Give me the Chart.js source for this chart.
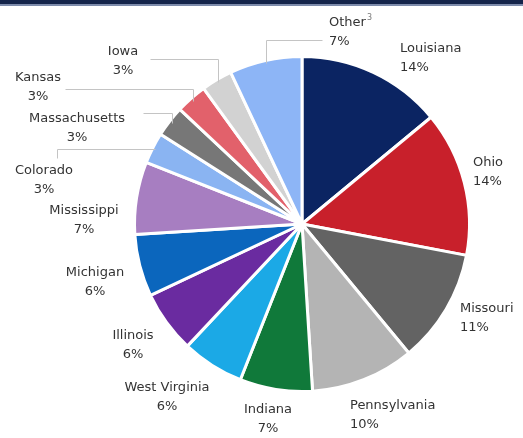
<!DOCTYPE html>
<html>
<head>
<meta charset="utf-8">
<script src="https://cdn.jsdelivr.net/npm/chart.js@4/dist/chart.umd.min.js"></script>
<style>
  html, body { margin: 0; padding: 0; background: #fff; }
  body { width: 523px; height: 438px; position: relative; overflow: hidden; }
  .topbar { position: absolute; left: 0; top: 0; width: 523px; height: 4px; background: #14244a; border-bottom: 2px solid #7d8bab; }
  #wrap { position: absolute; left: 0; top: 0; width: 523px; height: 438px; }
</style>
</head>
<body>
<div class="topbar"></div>
<div id="wrap"><canvas id="pie"></canvas></div>
<script>
// data
const states = ['Louisiana', 'Ohio', 'Missouri', 'Pennsylvania', 'Indiana', 'West Virginia',
  'Illinois', 'Michigan', 'Mississippi', 'Colorado', 'Massachusetts', 'Kansas', 'Iowa', 'Other'];
const shares = [14, 14, 11, 10, 7, 6, 6, 6, 7, 3, 3, 3, 3, 7];
const sliceColors = ['#0b2462', '#c8202b', '#636363', '#b4b4b4', '#10793a', '#1ba9e6',
  '#6a2ba0', '#0b66bd', '#a77ec1', '#8ab4f2', '#777777', '#e2616b', '#d2d2d2', '#8db5f6'];

// label placement (offsets from pie centre), line 2 sits 19px lower
const labelPos = {
  'Louisiana':     { dx: 98,   dy: -175, align: 'left' },
  'Ohio':          { dx: 171,  dy: -61,  align: 'left' },
  'Missouri':      { dx: 158,  dy: 85,   align: 'left' },
  'Pennsylvania':  { dx: 48,   dy: 182,  align: 'left' },
  'Indiana':       { dx: -34,  dy: 186,  align: 'center' },
  'West Virginia': { dx: -135, dy: 164,  align: 'center' },
  'Illinois':      { dx: -169, dy: 112,  align: 'center' },
  'Michigan':      { dx: -207, dy: 49,   align: 'center' },
  'Mississippi':   { dx: -218, dy: -13,  align: 'center' },
  'Colorado':      { dx: -258, dy: -53,  align: 'center' },
  'Massachusetts': { dx: -225, dy: -105, align: 'center' },
  'Kansas':        { dx: -264, dy: -146, align: 'center' },
  'Iowa':          { dx: -179, dy: -172, align: 'center' },
  'Other':         { dx: 27,   dy: -201, align: 'left', sup: '3' }
};

// leader lines for the small slices: 'v' = up then across, 'h' = across then down
const leaders = {
  'Other':         { type: 'v', dy: -184, dx: 20 },
  'Iowa':          { type: 'v', dy: -165, dx: -152 },
  'Kansas':        { type: 'v', dy: -135, dx: -237 },
  'Massachusetts': { type: 'v', dy: -111, dx: -159 },
  'Colorado':      { type: 'h', dx: -245, dy: -66 }
};

const labelPlugin = {
  id: 'sliceLabels',
  afterDatasetsDraw(chart) {
    const ctx = chart.ctx;
    const arcs = chart.getDatasetMeta(0).data;
    const cx = arcs[0].x, cy = arcs[0].y;
    ctx.save();

    // leader lines
    ctx.strokeStyle = '#c4c4c4';
    ctx.lineWidth = 1;
    states.forEach((name, i) => {
      const ld = leaders[name];
      if (!ld) return;
      const a = arcs[i];
      const mid = (a.startAngle + a.endAngle) / 2;
      const r = a.outerRadius - 3;
      const px = Math.round(cx + r * Math.cos(mid)) + 0.5;
      const py = Math.round(cy + r * Math.sin(mid)) + 0.5;
      ctx.beginPath();
      ctx.moveTo(px, py);
      if (ld.type === 'v') {
        const yl = Math.round(cy + ld.dy) + 0.5;
        ctx.lineTo(px, yl);
        ctx.lineTo(Math.round(cx + ld.dx) + 0.5, yl);
      } else {
        const xl = Math.round(cx + ld.dx) + 0.5;
        ctx.lineTo(xl, py);
        ctx.lineTo(xl, Math.round(cy + ld.dy) + 0.5);
      }
      ctx.stroke();
    });

    // text
    ctx.fillStyle = '#333333';
    ctx.font = '13px "DejaVu Sans"';
    ctx.textBaseline = 'middle';
    states.forEach((name, i) => {
      const p = labelPos[name];
      const x = cx + p.dx, y = cy + p.dy;
      ctx.textAlign = p.align;
      ctx.fillText(name, x, y);
      if (p.sup) {
        const w = ctx.measureText(name).width;
        ctx.save();
        ctx.font = '8px "DejaVu Sans"';
        ctx.fillStyle = '#777';
        ctx.textAlign = 'left';
        ctx.fillText(p.sup, x + w + 1, y - 5);
        ctx.restore();
      }
      ctx.fillText(shares[i] + '%', x, y + 19);
    });
    ctx.restore();
  }
};

new Chart(document.getElementById('pie'), {
  type: 'pie',
  data: {
    labels: states,
    datasets: [{
      data: shares,
      backgroundColor: sliceColors,
      borderColor: '#ffffff',
      borderWidth: 3
    }]
  },
  options: {
    responsive: true,
    maintainAspectRatio: false,
    animation: false,
    layout: { padding: { left: 133, right: 52, top: 55, bottom: 45 } },
    plugins: {
      legend: { display: false },
      tooltip: { enabled: false }
    }
  },
  plugins: [labelPlugin]
});
</script>
</body>
</html>
